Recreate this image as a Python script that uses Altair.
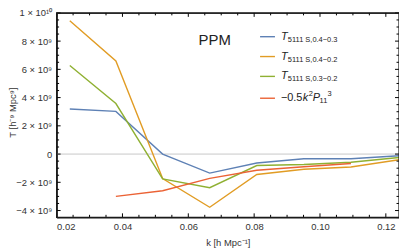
import altair as alt
import pandas as pd

# ---- data ----
k_vals = [0.0240, 0.0380, 0.0522, 0.0665, 0.0808, 0.0951, 0.1094, 0.1240]
t_04_03 = [3.19e9, 3.02e9, 0.0, -1.35e9, -0.63e9, -0.33e9, -0.33e9, -0.12e9]
t_04_02 = [9.45e9, 6.59e9, -1.74e9, -3.77e9, -1.45e9, -1.08e9, -0.92e9, -0.40e9]
t_03_02 = [6.27e9, 3.58e9, -1.76e9, -2.38e9, -0.81e9, -0.74e9, -0.58e9, -0.24e9]
k_red = [0.0380, 0.0522, 0.0665, 0.0808, 0.0951, 0.1094]
p11_term = [-3.0e9, -2.6e9, -1.72e9, -1.15e9, -0.90e9, -0.67e9]

series_names = ["T04_03", "T04_02", "T03_02", "P11"]
series_colors = ["#5E81B5", "#E19C24", "#8FB032", "#EB6235"]

x_major = [0.02, 0.04, 0.06, 0.08, 0.10, 0.12]
x_minor = [0.025, 0.03, 0.035, 0.045, 0.05, 0.055, 0.065, 0.07, 0.075,
           0.085, 0.09, 0.095, 0.105, 0.11, 0.115]
y_major = [-4e9, -2e9, 0, 2e9, 4e9, 6e9, 8e9, 1e10]
y_minor = [-4.5e9, -3.5e9, -3e9, -2.5e9, -1.5e9, -1e9, -0.5e9, 0.5e9, 1e9, 1.5e9,
           2.5e9, 3e9, 3.5e9, 4.5e9, 5e9, 5.5e9, 6.5e9, 7e9, 7.5e9, 8.5e9, 9e9, 9.5e9]
x_range = [0.02, 0.124]
y_range = [-4.48e9, 1.0e10]

# ---- build tables ----
rows = []
for name, ks, vs in [("T04_03", k_vals, t_04_03), ("T04_02", k_vals, t_04_02),
                     ("T03_02", k_vals, t_03_02), ("P11", k_red, p11_term)]:
    for i, (k, v) in enumerate(zip(ks, vs)):
        rows.append({"k": k, "T": v, "s": name, "i": i})
df = pd.DataFrame(rows)

W, H = 345, 206
TOP = 4
FONT = "Liberation Sans"
xscale = alt.Scale(domain=x_range, nice=False, zero=False)
yscale = alt.Scale(domain=y_range, nice=False, zero=False)

y_label_expr = ("datum.value == 0 ? '0' : (datum.value >= 1e10 ? '1 × 10¹⁰' : "
                "(datum.value < 0 ? '−' : '') + format(abs(datum.value) / 1e9, 'd') + ' × 10⁹')")

x_axis = alt.Axis(values=x_major, format=".2f", ticks=False, domain=True, domainColor="#1a1a1a",
                  domainWidth=1, grid=False,
                  labelPadding=4, title="k [h Mpc⁻¹]", titleY=20, titleBaseline="top")
y_axis = alt.Axis(values=y_major, labelExpr=y_label_expr, ticks=False, domain=True,
                  domainColor="#1a1a1a", domainWidth=1,
                  grid=False, labelPadding=5, title="T [h⁻⁹ Mpc⁹]",
                  titleX=-39, titleY=104 - TOP, titleAngle=-90)

zero_line = alt.Chart(pd.DataFrame({"z": [0]})).mark_rule(color="#c8c8c8", strokeWidth=1).encode(
    y=alt.Y("z:Q", scale=yscale, axis=y_axis)
)

lines = alt.Chart(df).mark_line(strokeWidth=1.4).encode(
    x=alt.X("k:Q", scale=xscale, axis=x_axis),
    y=alt.Y("T:Q", scale=yscale, axis=y_axis),
    color=alt.Color("s:N", scale=alt.Scale(domain=series_names, range=series_colors), legend=None),
    order="i:Q",
)

def tick_layer(vals, axis, side, length):
    d = pd.DataFrame({"v": vals})
    base = alt.Chart(d).mark_rule(color="black", strokeWidth=1)
    if axis == "x":
        if side == "bottom":
            y0, y1 = H, H - length
        else:
            y0, y1 = 0, length
        return base.encode(x=alt.X("v:Q", scale=xscale, axis=x_axis),
                           y=alt.value(y0), y2=alt.value(y1))
    else:
        if side == "left":
            x0, x1 = 0, length
        else:
            x0, x1 = W, W - length
        return base.encode(y=alt.Y("v:Q", scale=yscale, axis=y_axis),
                           x=alt.value(x0), x2=alt.value(x1))

ticks = []
for side in ["bottom", "top"]:
    ticks.append(tick_layer(x_major, "x", side, 4))
    ticks.append(tick_layer(x_minor, "x", side, 2.5))
for side in ["left", "right"]:
    ticks.append(tick_layer(y_major, "y", side, 4))
    ticks.append(tick_layer(y_minor, "y", side, 2.5))

# frame bound to the scales
box = pd.DataFrame({"x0": [x_range[0]], "x1": [x_range[1]],
                    "y0": [y_range[0]], "y1": [y_range[1]]})
frame = alt.Chart(box).mark_rect(filled=False, stroke="#1a1a1a", strokeWidth=1.2).encode(
    x=alt.X("x0:Q", scale=xscale, axis=x_axis), x2="x1:Q",
    y=alt.Y("y0:Q", scale=yscale, axis=y_axis), y2="y1:Q")

one = pd.DataFrame({"a": [0]})

def txt(s, x, y, size=11, italic=False, baseline="middle"):
    return alt.Chart(one).mark_text(
        align="left", baseline=baseline, font=FONT, fontSize=size,
        fontStyle="italic" if italic else "normal", color="#222"
    ).encode(x=alt.value(x), y=alt.value(y), text=alt.value(s))

def seg(color, y):
    return alt.Chart(one).mark_rule(color=color, strokeWidth=1.4).encode(
        x=alt.value(205), x2=alt.value(220), y=alt.value(y))

legend_rows_y = [28 - TOP, 48 - TOP, 68 - TOP, 90 - TOP]
subs = ["5111 S,0.4−0.3", "5111 S,0.4−0.2", "5111 S,0.3−0.2"]
legend = [txt("PPM", 143, 31 - TOP, size=15)]
for j in range(3):
    legend.append(seg(series_colors[j], legend_rows_y[j]))
    legend.append(txt("T", 226, legend_rows_y[j], size=11, italic=True))
    legend.append(txt(subs[j], 233, legend_rows_y[j] + 3, size=7.5))
ry = legend_rows_y[3]
legend.append(seg(series_colors[3], ry))
legend.append(txt("−0.5", 226, ry, size=11))
legend.append(txt("k", 248, ry, size=11, italic=True))
legend.append(txt("2", 254, ry - 4, size=7.5))
legend.append(txt("P", 258, ry, size=11, italic=True))
legend.append(txt("11", 265, ry + 3, size=7.5))
legend.append(txt("3", 273, ry - 4, size=7.5))

chart = alt.layer(zero_line, lines, *ticks, frame, *legend).properties(
    width=W, height=H,
    background="white",
    autosize=alt.AutoSizeParams(type="none"),
    padding={"left": 49, "top": TOP, "right": 0, "bottom": 30},
).configure_view(stroke="#1a1a1a", strokeWidth=1).configure_axis(
    labelFont=FONT, labelFontSize=9.5, labelColor="#333",
    titleFont=FONT, titleFontSize=9.5, titleColor="#333", titleFontWeight="normal",
)

chart.save("out.html", embed_options={"renderer": "svg", "actions": False})
